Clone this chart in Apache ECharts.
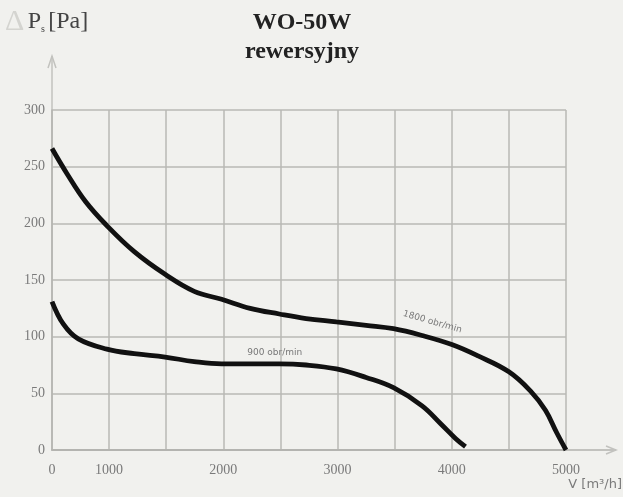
<!DOCTYPE html>
<html>
<head>
<meta charset="utf-8">
<script src="https://cdn.jsdelivr.net/npm/echarts/dist/echarts.min.js"></script>
<style>
  html, body { margin: 0; padding: 0; background: #f1f1ee; }
  #main { width: 623px; height: 497px; }
</style>
</head>
<body>
<div id="main"></div>
<script>
// axis starts at 500 m3/h but the origin is labelled "0" in the original chart
const xTicks = [500, 1000, 1500, 2000, 2500, 3000, 3500, 4000, 4500, 5000];
const xTickLabels = { 500: "0", 1000: "1000", 2000: "2000", 3000: "3000", 4000: "4000", 5000: "5000" };
const yTicks = [0, 50, 100, 150, 200, 250, 300];

// 1800 obr/min
const flow1800 = [500, 630, 795, 980, 1220, 1490, 1745, 1985, 2235, 2490, 2725, 2990, 3250, 3490, 3740, 4000, 4230, 4500, 4690, 4820, 4920, 5000];
const press1800 = [266, 244, 219, 198, 175, 155, 140, 133, 125, 120, 116, 113, 110, 107, 101, 93, 83, 69, 52, 35, 15, 0];

// 900 obr/min
const flow900 = [500, 600, 730, 980, 1220, 1490, 1745, 1985, 2235, 2490, 2725, 2990, 3250, 3490, 3740, 3905, 4035, 4120];
const press900 = [131, 111, 98, 89, 85, 82, 78, 76, 76, 76, 75, 71.5, 64, 55, 39, 23, 10, 3];

const curveLabels = [
  { text: "1800 obr/min", x: 3830, y: 113, rot: -16 },
  { text: "900 obr/min", x: 2450, y: 86, rot: 0 }
];

const pair = (xs, ys) => xs.map((x, i) => [x, ys[i]]);

const chart = echarts.init(document.getElementById("main"));
const serif = "'Liberation Serif', 'DejaVu Serif', serif";

const option = {
  backgroundColor: "#f1f1ee",
  animation: false,
  title: {
    text: "WO-50W\nrewersyjny",
    left: 297,
    top: 3,
    textAlign: "center",
    textStyle: { fontFamily: serif, fontWeight: "bold", fontSize: 24, lineHeight: 29, color: "#222" }
  },
  grid: { left: 52, right: 57, top: 110, bottom: 47 },
  xAxis: {
    type: "value",
    min: 500,
    max: 5000,
    interval: 500,
    axisLine: { show: true, lineStyle: { color: "#b4b4b0", width: 2 } },
    axisTick: { show: false },
    splitLine: { show: true, lineStyle: { color: "#b9b9b5", width: 1.5 } },
    axisLabel: {
      margin: 13,
      color: "#7a7a7a",
      fontFamily: serif,
      fontSize: 14,
      formatter: v => xTickLabels[v] || ""
    }
  },
  yAxis: {
    type: "value",
    min: 0,
    max: 300,
    interval: 50,
    axisLine: { show: true, lineStyle: { color: "#b4b4b0", width: 1.5 } },
    axisTick: { show: false },
    splitLine: { show: true, lineStyle: { color: "#b9b9b5", width: 1.5 } },
    axisLabel: { margin: 7, color: "#7a7a7a", fontFamily: serif, fontSize: 14 }
  },
  series: [
    {
      name: "1800 obr/min",
      type: "line",
      smooth: 0.4,
      showSymbol: false,
      lineStyle: { color: "#111", width: 4.8 },
      data: pair(flow1800, press1800)
    },
    {
      name: "900 obr/min",
      type: "line",
      smooth: 0.4,
      showSymbol: false,
      lineStyle: { color: "#111", width: 4.8 },
      data: pair(flow900, press900)
    }
  ]
};
chart.setOption(option);

// axis extensions with arrows, axis names and curve labels
const origin = chart.convertToPixel({ gridIndex: 0 }, [500, 0]);
const topLeft = chart.convertToPixel({ gridIndex: 0 }, [500, 300]);
const bottomRight = chart.convertToPixel({ gridIndex: 0 }, [5000, 0]);
const arrowY = topLeft[1] - 54;
const arrowX = bottomRight[0] + 50;
const gray = "#c2c2be";

const graphics = [
  { type: "line", shape: { x1: topLeft[0], y1: topLeft[1], x2: topLeft[0], y2: arrowY }, style: { stroke: gray, lineWidth: 1.5 } },
  { type: "polyline", shape: { points: [[topLeft[0] - 4, arrowY + 12], [topLeft[0], arrowY], [topLeft[0] + 4, arrowY + 12]] }, style: { stroke: gray, lineWidth: 1.5, fill: null } },
  { type: "line", shape: { x1: bottomRight[0], y1: origin[1], x2: arrowX, y2: origin[1] }, style: { stroke: gray, lineWidth: 2 } },
  { type: "polyline", shape: { points: [[arrowX - 10, origin[1] - 4], [arrowX, origin[1]], [arrowX - 10, origin[1] + 4]] }, style: { stroke: gray, lineWidth: 1.5, fill: null } },
  {
    type: "text", left: 5, top: 7,
    style: {
      text: "{d|Δ} {p|P}{s|s} {p|[Pa]}",
      rich: {
        d: { fontFamily: serif, fontSize: 30, fill: "#d4d4d0" },
        p: { fontFamily: serif, fontSize: 24, fill: "#444" },
        s: { fontFamily: serif, fontSize: 10, fill: "#444", padding: [14, 0, 0, 0] }
      }
    }
  },
  {
    type: "text", right: 1, top: 478,
    style: { text: "V [m³/h]", fontFamily: "'DejaVu Sans', sans-serif", fontSize: 13, fill: "#7a7a7a" }
  }
];

curveLabels.forEach(l => {
  const p = chart.convertToPixel({ gridIndex: 0 }, [l.x, l.y]);
  graphics.push({
    type: "text",
    x: p[0], y: p[1],
    rotation: l.rot * Math.PI / 180,
    style: {
      text: l.text, fontFamily: "'DejaVu Sans', sans-serif", fontSize: 9, fill: "#777",
      align: "center", verticalAlign: "middle"
    }
  });
});

chart.setOption({ graphic: graphics });
</script>
</body>
</html>
